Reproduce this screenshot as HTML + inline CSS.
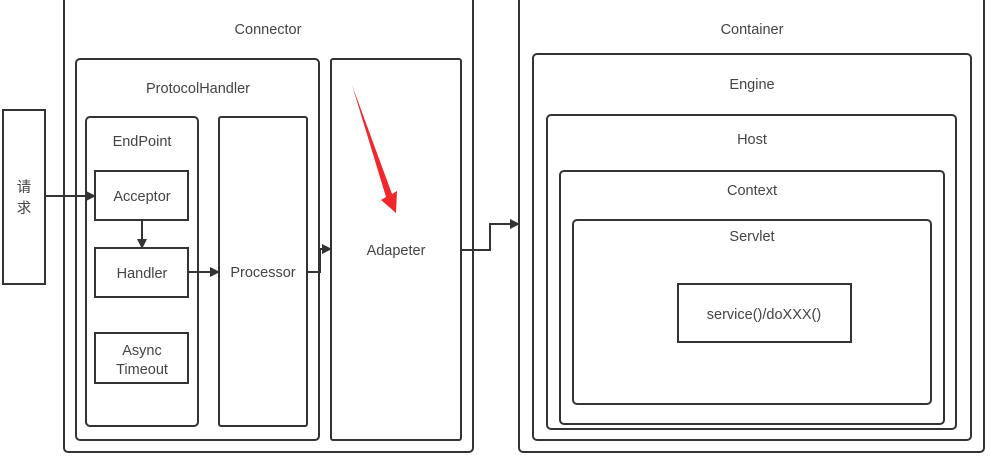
<!DOCTYPE html>
<html><head><meta charset="utf-8"><style>
html,body{margin:0;padding:0;background:#fff;width:990px;height:461px;overflow:hidden}
svg text{font-family:"Liberation Sans","Noto Sans CJK SC",sans-serif;font-size:14.5px;fill:#444;text-anchor:middle}
</style></head><body>
<svg width="990" height="461" viewBox="0 0 990 461">
<defs><marker id="ah" markerWidth="10" markerHeight="10" refX="9" refY="5" orient="auto" markerUnits="userSpaceOnUse"><path d="M0,0 L10,5 L0,10 z" fill="#333"/></marker></defs>
<g fill="none" stroke="#333" stroke-width="2">
<rect x="64" y="-10" width="409" height="462" rx="4"/>
<rect x="76" y="59" width="243" height="381" rx="4"/>
<rect x="331" y="59" width="130" height="381" rx="2"/>
<rect x="86" y="117" width="112" height="309" rx="4"/>
<rect x="219" y="117" width="88" height="309" rx="2"/>
<rect x="95" y="171" width="93" height="49"/>
<rect x="95" y="248" width="93" height="49"/>
<rect x="95" y="333" width="93" height="50"/>
<rect x="3" y="110" width="42" height="174"/>
<rect x="519" y="-10" width="465" height="462" rx="4"/>
<rect x="533" y="54" width="438" height="386" rx="4"/>
<rect x="547" y="115" width="409" height="314" rx="4"/>
<rect x="560" y="171" width="384" height="253" rx="4"/>
<rect x="573" y="220" width="358" height="184" rx="4"/>
<rect x="678" y="284" width="173" height="58"/>
<path d="M45,196 L95,196" marker-end="url(#ah)"/>
<path d="M142,220 L142,248" marker-end="url(#ah)"/>
<path d="M188,272 L219,272" marker-end="url(#ah)"/>
<path d="M307,272 L320,272 L320,249 L331,249" marker-end="url(#ah)"/>
<path d="M461,250 L490,250 L490,224 L519,224" marker-end="url(#ah)"/>
</g>
<polygon points="352,85 392,194 397,191 396,213 381,200 386,197" fill="#f0282d"/>
<text x="268" y="34">Connector</text>
<text x="198" y="93">ProtocolHandler</text>
<text x="142" y="146">EndPoint</text>
<text x="142" y="201">Acceptor</text>
<text x="142" y="278">Handler</text>
<text x="142" y="355">Async</text>
<text x="142" y="374">Timeout</text>
<text x="263" y="277">Processor</text>
<text x="396" y="255">Adapeter</text>
<text x="24" y="192">请</text>
<text x="24" y="213">求</text>
<text x="752" y="34">Container</text>
<text x="752" y="89">Engine</text>
<text x="752" y="144">Host</text>
<text x="752" y="195">Context</text>
<text x="752" y="241">Servlet</text>
<text x="764" y="319">service()/doXXX()</text>
</svg>
</body></html>
